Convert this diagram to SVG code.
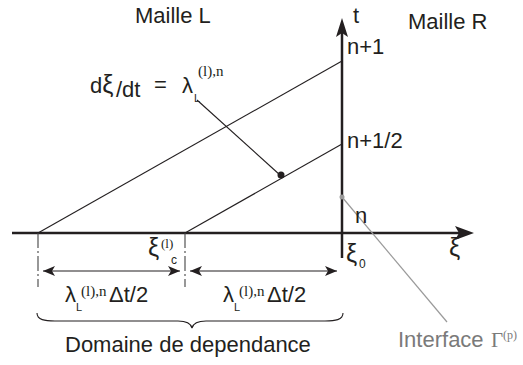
<svg xmlns="http://www.w3.org/2000/svg" width="523" height="365" viewBox="0 0 523 365">
<defs>
<style>
.t{font-family:"Liberation Sans",Arial,sans-serif;font-size:22px;fill:#231f20}
.s{font-family:"Liberation Serif","Times New Roman",serif;fill:#231f20}
.x{font-family:"Liberation Sans",Arial,sans-serif;font-size:25px;fill:#231f20}
.ax{stroke:#231f20;stroke-width:2.5;fill:none}
.ln{stroke:#231f20;stroke-width:1.1;fill:none}
.dd{stroke:#444;stroke-width:1.1;fill:none;stroke-dasharray:15 3 2 3}
.gr{stroke:#9a9a9a;stroke-width:1.2;fill:none}
</style>
<marker id="ah" viewBox="0 0 12 10" refX="12" refY="5" markerWidth="12" markerHeight="10" markerUnits="userSpaceOnUse" orient="auto-start-reverse">
<path d="M0,0 L12,5 L0,10 L3,5 Z" fill="#231f20"/>
</marker>
</defs>
<g id="connectors">
<line id="xi-axis" class="ax" x1="12" y1="233" x2="460" y2="233"/>
<path d="M474,233 L455,226 L459,233 L455,240 Z" fill="#231f20"/>
<line id="t-axis" class="ax" x1="342" y1="258" x2="342" y2="33"/>
<path d="M342,18 L336,37 L342,33 L348,37 Z" fill="#231f20"/>
<line class="ln" x1="38" y1="233" x2="342" y2="61"/>
<line class="ln" x1="185" y1="233" x2="342" y2="144"/>
<line class="ln" x1="197" y1="100" x2="280" y2="175"/>
<circle cx="281" cy="175" r="3.5" fill="#231f20"/>
<line class="gr" x1="342" y1="197" x2="447" y2="322"/>
<circle cx="342" cy="197" r="2.5" fill="#9a9a9a"/>
<line class="dd" x1="38" y1="233" x2="38" y2="287"/>
<line class="dd" x1="185" y1="233" x2="185" y2="287"/>
<line class="ln" x1="43" y1="271" x2="180" y2="271" marker-start="url(#ah)" marker-end="url(#ah)"/>
<line class="ln" x1="190" y1="271" x2="337" y2="271" marker-start="url(#ah)" marker-end="url(#ah)"/>
<path class="ln" d="M37,313 C37,320 45,321 55,321 L178,321 C186,321 191,324 192,328 C193,324 198,321 206,321 L325,321 C335,321 343,320 343,313"/>
</g>
<g id="maille-l"><text class="t" x="135" y="23">Maille L</text></g>
<g id="maille-r"><text class="t" x="408" y="29">Maille R</text></g>
<g id="t-label"><text class="t" x="353" y="23">t</text></g>
<g id="n1"><text class="t" x="347" y="54">n+1</text></g>
<g id="n12"><text class="t" x="347" y="148">n+1/2</text></g>
<g id="n"><text class="t" x="355" y="223">n</text></g>
<g id="xi-label"><text class="x" x="449" y="256">ξ</text></g>
<g id="xi0"><text class="x" x="346" y="262">ξ</text><text class="t" x="359" y="268" style="font-size:12px">0</text></g>
<g id="xic"><text class="x" x="148" y="256">ξ</text><text class="s" x="161" y="248" style="font-size:13px">(l)</text><text class="t" x="171" y="264" style="font-size:12px">c</text></g>
<g id="slope">
<text class="t" x="90" y="93">d<tspan style="font-size:25px">ξ</tspan></text>
<text class="t" x="116" y="97">/dt</text>
<text class="t" x="154" y="92">=</text>
<text class="t" x="182" y="93">λ</text>
<text class="t" x="194" y="102" style="font-size:11px">L</text>
<text class="s" x="198" y="76" style="font-size:15px">(l),n</text>
</g>
<g id="half-left">
<text class="t" x="65" y="302">λ</text>
<text class="t" x="76" y="311" style="font-size:11px">L</text>
<text class="s" x="81" y="296" style="font-size:15px">(l),n</text>
<text class="t" x="109" y="302">Δt/2</text>
</g>
<g id="half-right">
<text class="t" x="223" y="302">λ</text>
<text class="t" x="234" y="311" style="font-size:11px">L</text>
<text class="s" x="239" y="296" style="font-size:15px">(l),n</text>
<text class="t" x="267" y="302">Δt/2</text>
</g>
<g id="domaine"><text class="t" x="65" y="352">Domaine de dependance</text></g>
<g id="interface">
<text class="t" x="398" y="347" style="fill:#7a7a7a">Interface </text>
<text class="s" x="491" y="347" style="font-size:21px;fill:#7a7a7a">Γ</text>
<text class="s" x="503" y="339" style="font-size:12px;fill:#7a7a7a">(p)</text>
</g>
</svg>
